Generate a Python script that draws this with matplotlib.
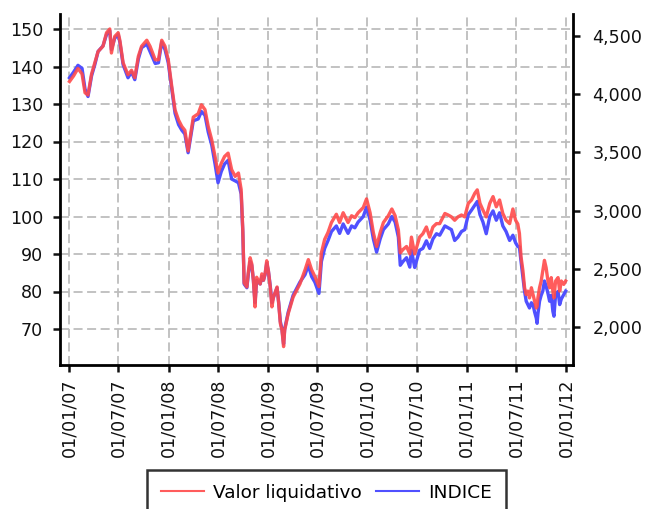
import matplotlib
matplotlib.use("Agg")
import matplotlib.pyplot as plt
import matplotlib.dates as mdates
import matplotlib.ticker as mticker
import pandas as pd

dates = [
    "2007-01-02","2007-01-17","2007-02-02","2007-02-17","2007-02-28","2007-03-11","2007-03-24","2007-04-05",
    "2007-04-17","2007-05-05","2007-05-18","2007-05-30","2007-06-05","2007-06-17","2007-06-30","2007-07-06",
    "2007-07-18","2007-08-05","2007-08-18","2007-08-30","2007-09-12","2007-09-24","2007-10-13","2007-10-25",
    "2007-11-13","2007-11-25","2007-12-07","2007-12-19","2007-12-31",
    "2008-01-13","2008-01-25","2008-02-07","2008-02-19","2008-03-01","2008-03-13","2008-04-01","2008-04-19",
    "2008-05-01","2008-05-14","2008-05-26","2008-06-08","2008-06-20","2008-07-01","2008-07-13","2008-07-25",
    "2008-08-07","2008-08-20","2008-09-02","2008-09-14","2008-09-24","2008-09-30","2008-10-05","2008-10-15",
    "2008-10-21","2008-10-27","2008-11-02","2008-11-08","2008-11-14","2008-11-20","2008-12-03","2008-12-09",
    "2008-12-15","2008-12-21","2008-12-27",
    "2009-01-02","2009-01-09","2009-01-15","2009-01-21","2009-02-03","2009-02-09","2009-02-15","2009-02-21",
    "2009-02-27","2009-03-03","2009-03-16","2009-04-03","2009-04-28","2009-05-17","2009-05-29","2009-06-10",
    "2009-06-22","2009-07-07","2009-07-16","2009-07-28","2009-08-09","2009-08-22","2009-09-09","2009-09-21",
    "2009-10-04","2009-10-22","2009-11-04","2009-11-16","2009-11-28","2009-12-17","2009-12-29",
    "2010-01-11","2010-01-23","2010-02-04","2010-02-17","2010-03-01","2010-03-19","2010-04-01","2010-04-13",
    "2010-04-25","2010-05-02","2010-05-12","2010-05-25","2010-06-06","2010-06-12","2010-06-24","2010-06-30",
    "2010-07-12","2010-07-24","2010-08-06","2010-08-18","2010-08-30","2010-09-12","2010-09-24","2010-10-13",
    "2010-10-25","2010-11-06","2010-11-18","2010-11-30","2010-12-13","2010-12-25",
    "2011-01-07","2011-01-19","2011-01-31","2011-02-09","2011-02-19","2011-03-02","2011-03-14","2011-03-27",
    "2011-04-08","2011-04-20","2011-05-02","2011-05-14","2011-05-26","2011-06-08","2011-06-20","2011-06-30",
    "2011-07-08","2011-07-14","2011-07-20","2011-07-27","2011-08-02","2011-08-08","2011-08-14","2011-08-20",
    "2011-08-27","2011-09-02","2011-09-08","2011-09-14","2011-09-17","2011-09-20","2011-09-26","2011-10-02",
    "2011-10-08","2011-10-14","2011-10-20","2011-10-27","2011-11-02","2011-11-08","2011-11-14","2011-11-18",
    "2011-11-24","2011-12-03","2011-12-09","2011-12-15","2011-12-24","2011-12-31",
]

valor_liquidativo = [
    136, 137.5, 139.5, 138, 133, 132.4, 138, 141, 144, 145.4, 149, 150, 143.6, 148, 149, 147, 141, 137.8,
    139, 137, 142.7, 145.4, 147, 145.4, 141.8, 141.8, 147, 145.4, 141.8,
    134.6, 128.4, 125.7, 124, 123, 117.5, 126.5, 127.4, 129.8, 128.5, 124, 120.4, 116, 111.6, 114.2, 116,
    116.9, 112.5, 110.7, 111.6, 107.2, 96.5, 82.3, 81.2, 85.6, 89, 87.4, 83, 75.9, 83.8, 82, 84.7, 83, 84.7, 88.2,
    85.6, 81.2, 75.9, 78.5, 81.2, 76.8, 71.5, 69.7, 65.3, 69.7, 74.1, 78.5, 82, 85.8, 88.5, 85.8, 84, 81.3,
    90.3, 93.9, 95.7, 98.4, 100.6, 98.4, 101, 98.4, 100.2, 99.7, 101, 102.4, 104.7,
    101, 95.7, 92, 95.7, 98.4, 100.2, 102, 100.2, 96.4, 90.3, 91.2, 92, 90, 94.5, 90, 91.5, 94.5, 95.4,
    97.2, 94.5, 97.2, 98.1, 98.1, 100.8, 100.4, 99.9, 99, 99.9, 100.4, 99.9,
    103.5, 104.4, 106.2, 107.1, 103.5, 101.7, 99.9, 103.5, 105.3, 102.6, 104.4, 100.8, 99, 98.1, 102, 99,
    98, 95.5, 89.2, 85.5, 81, 79.2, 80.1, 78.3, 81, 79.2, 77.4, 75.6, 76, 78.3, 81, 82.8, 85.5, 88.3, 86.4,
    82.8, 81, 83.7, 80.1, 78.3, 82.8, 83.7, 80.1, 82.8, 81.9, 82.8,
]

indice = [
    4141, 4190, 4248, 4222, 4044, 3980, 4157, 4254, 4367, 4415, 4512, 4544, 4383, 4480, 4512, 4447, 4254, 4141,
    4190, 4125, 4302, 4399, 4431, 4367, 4264, 4270, 4447, 4383, 4270,
    4044, 3835, 3738, 3690, 3658, 3497, 3771, 3787, 3851, 3819, 3674, 3561, 3400, 3239, 3336, 3400, 3432, 3271,
    3255, 3239, 3142, 2820, 2369, 2337, 2466, 2562, 2530, 2401, 2208, 2401, 2369, 2433, 2401, 2450, 2546,
    2482, 2353, 2208, 2256, 2337, 2208, 2047, 1982, 1853, 1982, 2127, 2272, 2385, 2450, 2530, 2433, 2385, 2288,
    2562, 2675, 2740, 2820, 2868, 2804, 2885, 2804, 2868, 2852, 2901, 2949, 3030,
    2917, 2756, 2643, 2756, 2836, 2885, 2949, 2901, 2772, 2530, 2562, 2595, 2514, 2659, 2511, 2562, 2659, 2675,
    2740, 2675, 2756, 2801, 2788, 2868, 2852, 2836, 2743, 2772, 2820, 2836,
    2965, 3004, 3046, 3078, 2965, 2901, 2801, 2949, 2997, 2917, 2981, 2868, 2820, 2743, 2788, 2723, 2691, 2688,
    2562, 2424, 2305, 2221, 2192, 2163, 2208, 2192, 2127, 2076, 2031, 2111, 2221, 2272, 2308, 2395, 2353, 2288,
    2221, 2272, 2134, 2092, 2279, 2305, 2192, 2240, 2279, 2308,
]

left_ticks = [70, 80, 90, 100, 110, 120, 130, 140, 150]
right_ticks = [2000, 2500, 3000, 3500, 4000, 4500]
x_ticks = ["2007-01-01", "2007-07-01", "2008-01-01", "2008-07-01", "2009-01-01", "2009-07-01",
           "2010-01-01", "2010-07-01", "2011-01-01", "2011-07-01", "2012-01-01"]
series_names = ["Valor liquidativo", "INDICE"]

x = pd.to_datetime(dates)
FS = 12.6
plt.rcParams["font.family"] = ["DejaVu Sans"]

fig = plt.figure(figsize=(6.47, 5.09), dpi=100)
pos = [60 / 647, 1 - 365 / 509, (573 - 60) / 647, (365 - 14) / 509]

ax = fig.add_axes(pos)
ax_b = ax.twinx()
ax_r = fig.add_axes(pos, sharex=ax, sharey=ax)
ax.set_zorder(1)
ax_b.set_zorder(2)
ax_r.set_zorder(3)
ax_b.patch.set_visible(False)
ax_r.patch.set_visible(False)
ax_r.axis("off")

red = "#ff4a4a"
blue = "#5050ff"
lb, = ax_b.plot(x, indice, color=blue, lw=2.4)
lr, = ax_r.plot(x, valor_liquidativo, color=red, lw=2.4, alpha=0.9)

ax.set_xlim(pd.Timestamp("2006-11-28"), pd.Timestamp("2012-01-27"))
ax.set_ylim(60.4, 154)
ax_b.set_ylim(1673, 4689)

ax.set_xticks(pd.to_datetime(x_ticks))
ax.xaxis.set_major_formatter(mdates.DateFormatter("%d/%m/%y"))
ax.set_yticks(left_ticks)
ax_b.set_yticks(right_ticks)
ax_b.yaxis.set_major_formatter(mticker.FuncFormatter(lambda v, p: f"{v:,.0f}"))

ax.grid(True, color="#bdbdbd", linestyle=(0, (5, 2.5)), linewidth=1.3)

for s in ["top", "right"]:
    ax.spines[s].set_visible(False)
for s in ["top", "left", "bottom"]:
    ax_b.spines[s].set_visible(False)
for s in ["left", "bottom"]:
    ax.spines[s].set_linewidth(2.0)
ax_b.spines["right"].set_linewidth(2.0)

ax.tick_params(axis="x", labelrotation=90, labelsize=FS, length=5, width=1.8, pad=5, colors="#111111")
ax.tick_params(axis="y", labelsize=FS, length=5, width=1.8, pad=7, colors="#111111")
ax_b.tick_params(axis="y", labelsize=FS, length=5, width=1.8, pad=9, colors="#111111")

leg = fig.legend([lr, lb], series_names, loc="upper center", bbox_to_anchor=(0.5046, 1 - 470 / 509),
                 ncol=2, fontsize=13.3, frameon=True, fancybox=False, edgecolor="black",
                 handlelength=2.3, handletextpad=0.5, columnspacing=0.8, borderpad=0.75, borderaxespad=0)
leg.get_frame().set_linewidth(1.8)
for line in leg.get_lines():
    line.set_linewidth(1.5)

fig.savefig("out.png", dpi=100)
